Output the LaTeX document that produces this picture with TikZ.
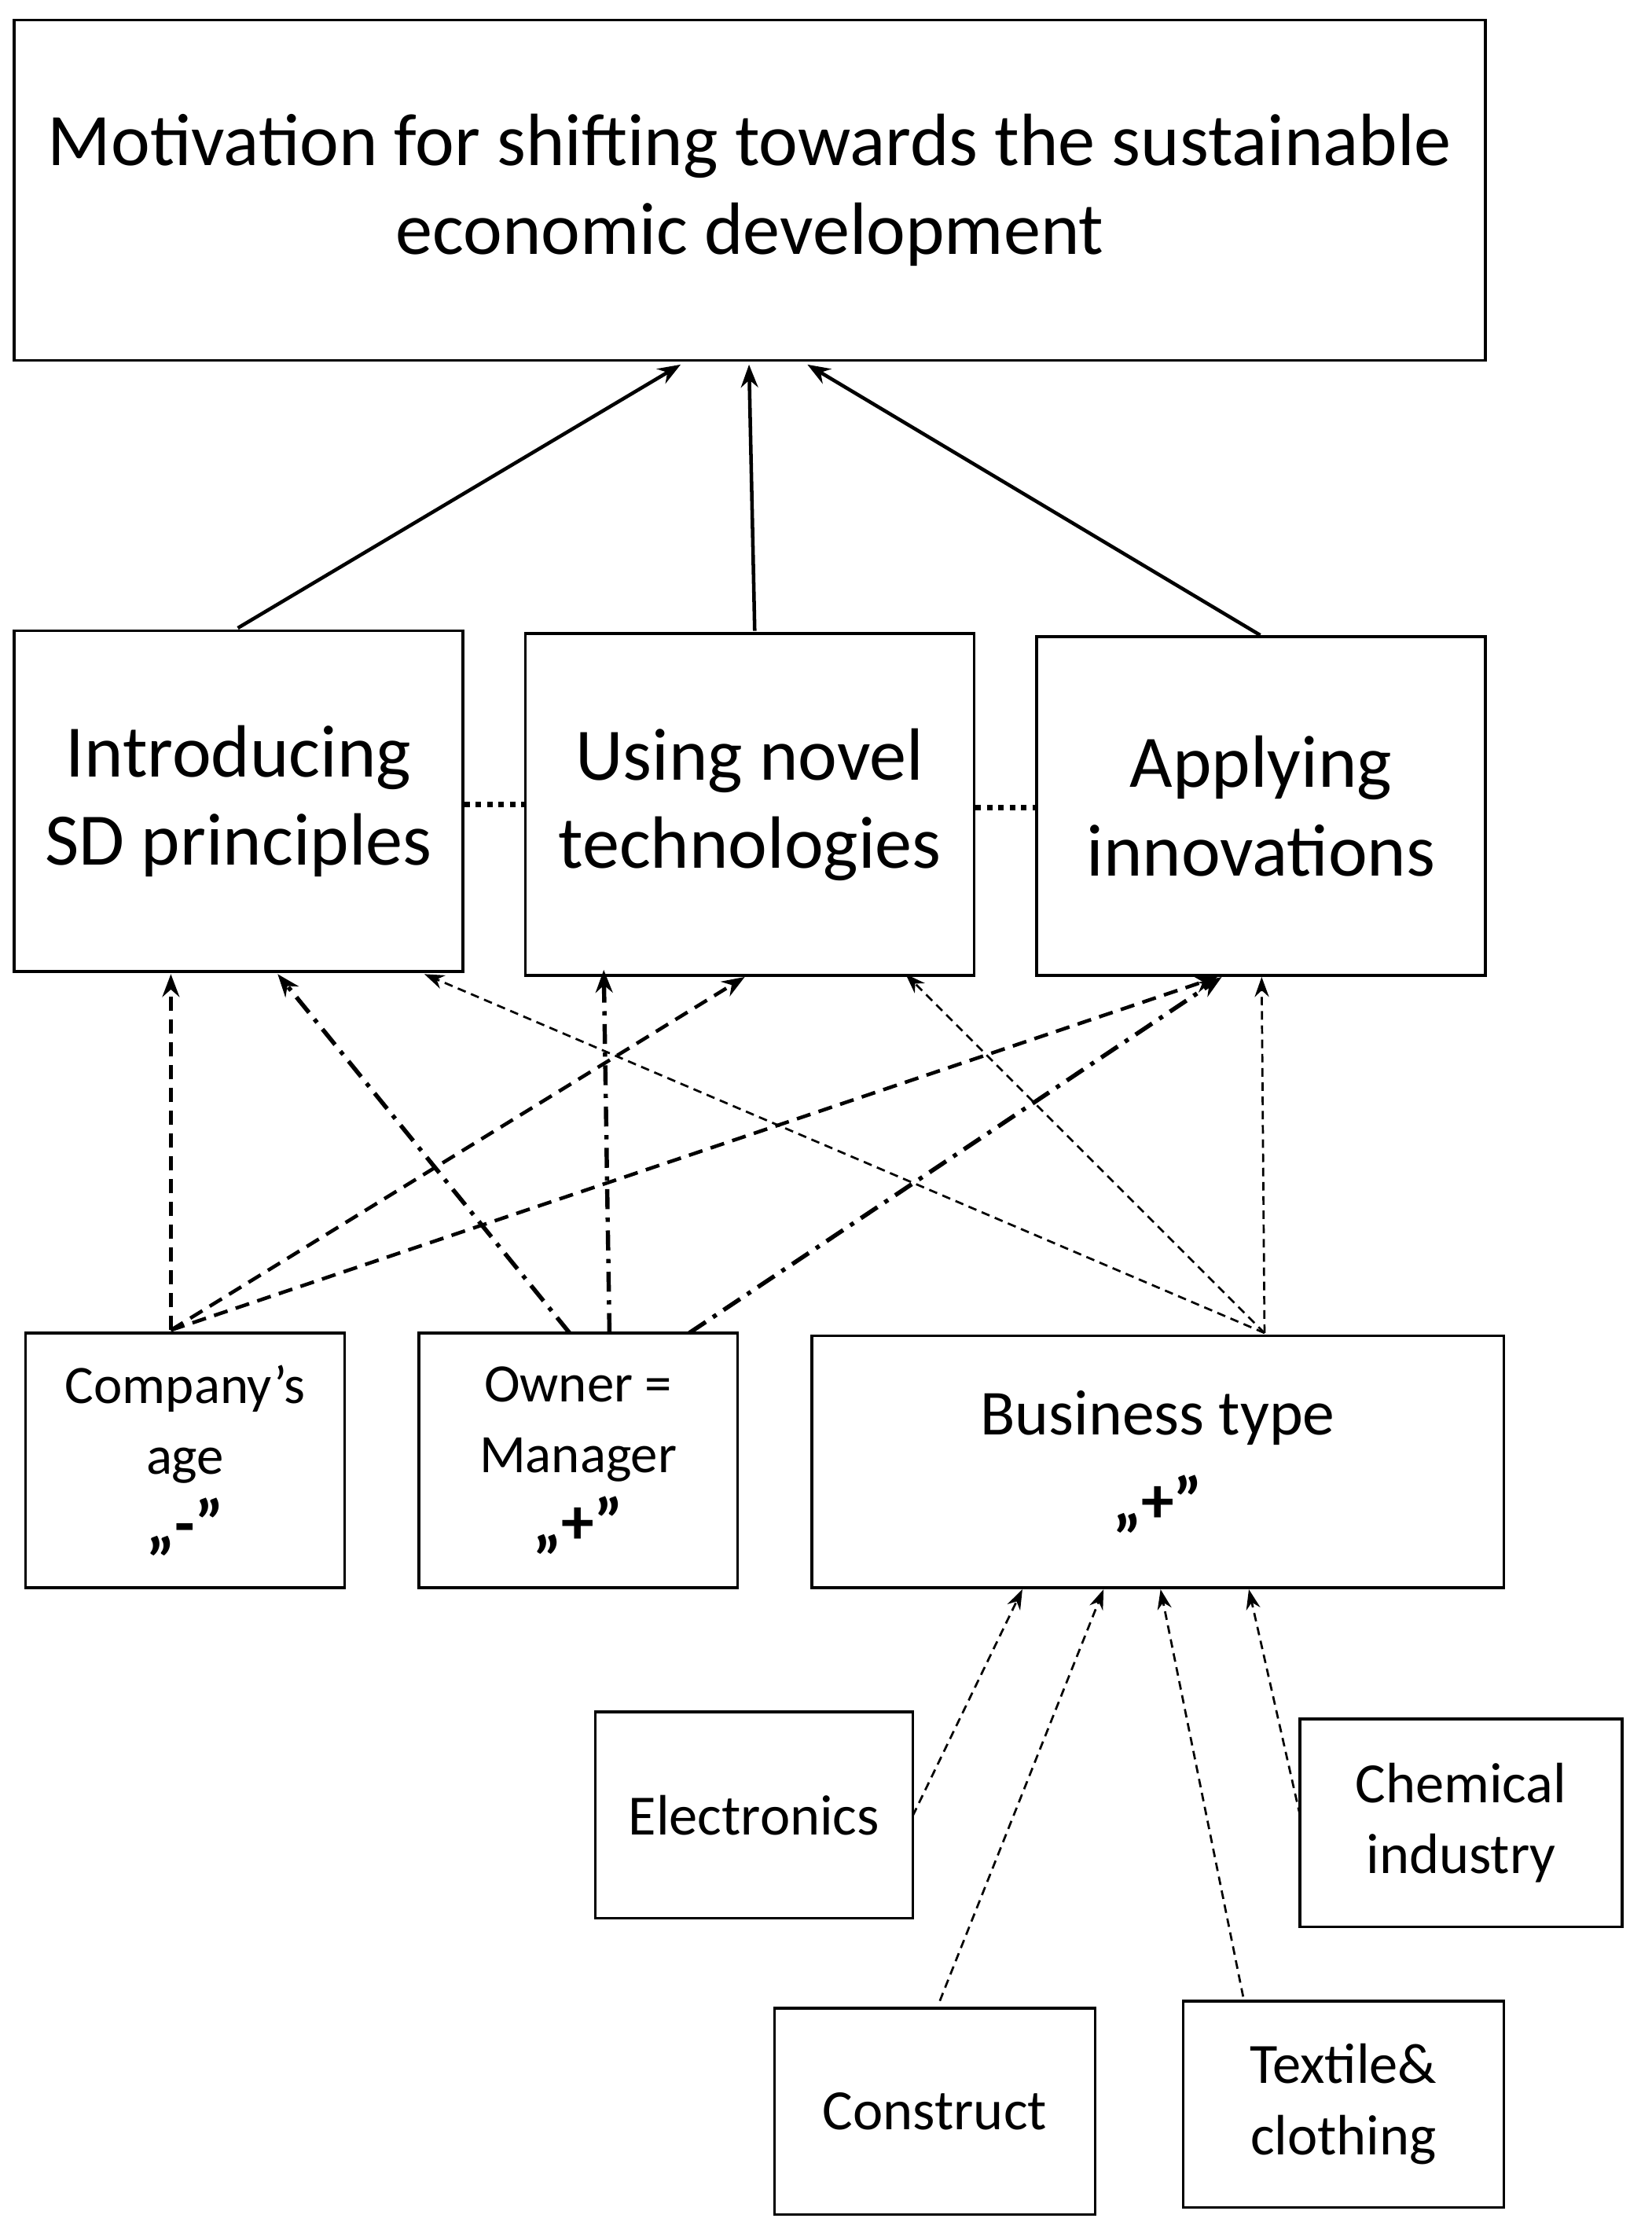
\documentclass[tikz,border=0pt]{standalone}
\usepackage{fontspec}
\setmainfont{Carlito}
\usetikzlibrary{arrows.meta}
\begin{document}
\begin{tikzpicture}[x=1pt,y=-1pt,
  box/.style={draw,line width=2pt,align=center,inner sep=0pt},
  con/.style={line width=2.5pt,-{Stealth[length=16pt,width=12pt]}},
  dsh/.style={line width=2.5pt,dash pattern=on 10pt off 6pt,-{Stealth[length=16pt,width=12pt]}},
  dd/.style={line width=3pt,dash pattern=on 14pt off 6pt on 3pt off 6pt,-{Stealth[length=16pt,width=12pt]}},
  thin/.style={line width=1.5pt,dash pattern=on 6pt off 4pt,-{Stealth[length=14pt,width=10pt]}}]
\useasboundingbox (0,0) rectangle (1160,1568);
\node[box,minimum width=1033pt,minimum height=239pt,font=\fontsize{52}{62}\selectfont] (top) at (526.5,133.5) {Motivation for shifting towards the sustainable\\economic development};
\node[box,minimum width=315pt,minimum height=239pt,font=\fontsize{52}{62}\selectfont] (sd) at (167.5,562.5) {Introducing\\SD principles};
\node[box,minimum width=315pt,minimum height=240pt,font=\fontsize{52}{62}\selectfont] (nov) at (526.5,565) {Using novel\\technologies};
\node[box,minimum width=315pt,minimum height=238pt,font=\fontsize{52}{62}\selectfont] (app) at (885.5,566) {Applying\\innovations};
\node[box,minimum width=224pt,minimum height=179pt,font=\fontsize{38}{50}\selectfont] (comp) at (130,1025.5) {Company's\\age\\\fontsize{46}{46}\selectfont\bfseries „-”};
\node[box,minimum width=224pt,minimum height=179pt,font=\fontsize{38}{50}\selectfont] (own) at (406,1025.5) {Owner =\\Manager\\\fontsize{46}{46}\selectfont\bfseries „+”};
\node[box,minimum width=486pt,minimum height=177pt,font=\fontsize{45}{62}\selectfont] (bus) at (813,1026.5) {Business type\\\fontsize{46}{46}\selectfont\bfseries „+”};
\node[box,minimum width=223pt,minimum height=145pt,font=\fontsize{40}{50}\selectfont] (el) at (529.5,1274.5) {Electronics};
\node[box,minimum width=226pt,minimum height=146pt,font=\fontsize{40}{50}\selectfont] (ch) at (1026,1280) {Chemical\\industry};
\node[box,minimum width=225pt,minimum height=145pt,font=\fontsize{40}{50}\selectfont] (co) at (656.5,1482.5) {Construct};
\node[box,minimum width=225pt,minimum height=145pt,font=\fontsize{40}{50}\selectfont] (te) at (943.5,1477.5) {Textile\&\\clothing};
\coordinate (t1) at (478,256); \coordinate (t2) at (526,256); \coordinate (t3) at (567,256);
\draw[con] (167,441) -- (t1);
\draw[con] (530,443) -- (t2);
\draw[con] (885,446) -- (t3);
\draw[line width=4pt,dash pattern=on 4pt off 4pt] (sd.east |- 0,565) -- (nov.west |- 0,565);
\draw[line width=4pt,dash pattern=on 4pt off 4pt] (nov.east |- 0,567) -- (app.west |- 0,567);
\coordinate (c0) at (120,934);
\draw[dsh] (c0) -- (120,684);
\draw[dsh] (c0) -- (523,686);
\draw[dsh] (c0) -- (855,686);
\draw[dd] (400,936) -- (195,684);
\draw[dd] (428,936) -- (424,681);
\draw[dd] (484,936) -- (858,686);
\coordinate (b0) at (888,936);
\draw[thin] (b0) -- (298,684);
\draw[thin] (b0) -- (636,684);
\draw[thin] (b0) -- (886,686);
\draw[thin] (641,1275) -- (718,1116);
\draw[thin] (660,1405) -- (775,1116);
\draw[thin] (873,1402) -- (815,1116);
\draw[thin] (913,1275) -- (877,1116);
\end{tikzpicture}
\end{document}
